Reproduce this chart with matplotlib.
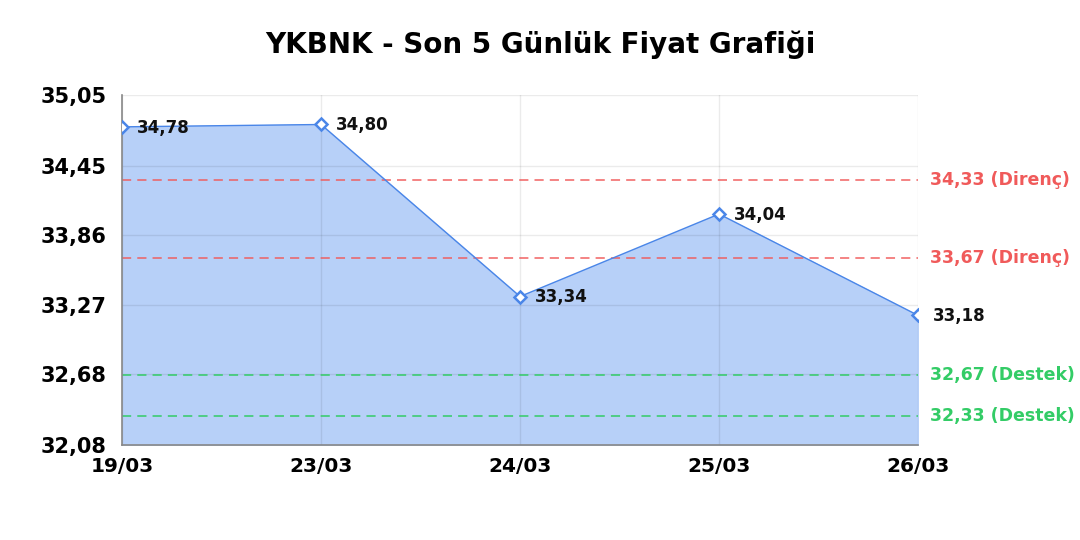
import matplotlib.pyplot as plt
from matplotlib.transforms import blended_transform_factory

dates = ['19/03', '23/03', '24/03', '25/03', '26/03']
prices = [34.78, 34.80, 33.34, 34.04, 33.18]
resistance = [34.33, 33.67]
support = [32.67, 32.33]
y_ticks = [32.08, 32.68, 33.27, 33.86, 34.45, 35.05]

LINE = '#4a86e8'
FILL = '#b7d0f8'
RED = '#f05a5a'
GREEN = '#33cc66'


def fmt(v):
    return f'{v:.2f}'.replace('.', ',')


fig = plt.figure(figsize=(10.8, 5.4), dpi=100)
ax = fig.add_axes([0.113, 0.176, 0.737, 0.648])

x = list(range(len(dates)))
ax.fill_between(x, prices, y_ticks[0], color=FILL, zorder=1)
ax.plot(x, prices, color=LINE, linewidth=1.0, zorder=3)
ax.plot(x, prices, linestyle='none', marker='D', markersize=6,
        markerfacecolor='white', markeredgecolor=LINE, markeredgewidth=1.8, zorder=4)

for xi, p in zip(x, prices):
    ax.annotate(fmt(p), (xi, p), xytext=(11, -0.5), textcoords='offset points',
                ha='left', va='center', fontsize=12, fontweight='bold', color='#111111', zorder=5)

trans = blended_transform_factory(ax.transAxes, ax.transData)
for lvl in resistance:
    ax.axhline(lvl, color=RED, linestyle=(0, (6, 4)), linewidth=1.1, alpha=0.95, zorder=2)
    ax.text(1.015, lvl, f'{fmt(lvl)} (Direnç)', transform=trans, ha='left', va='center',
            fontsize=12.5, fontweight='bold', color=RED)
for lvl in support:
    ax.axhline(lvl, color=GREEN, linestyle=(0, (6, 4)), linewidth=1.1, zorder=2)
    ax.text(1.015, lvl, f'{fmt(lvl)} (Destek)', transform=trans, ha='left', va='center',
            fontsize=12.5, fontweight='bold', color=GREEN)

ax.set_xlim(0, len(dates) - 1)
ax.set_ylim(y_ticks[0], y_ticks[-1])
ax.set_xticks(x)
ax.set_xticklabels(dates, fontsize=14.5, fontweight='bold')
ax.set_yticks(y_ticks)
ax.set_yticklabels([fmt(v) for v in y_ticks], fontsize=15, fontweight='bold')
ax.tick_params(axis='y', length=0, pad=11)
ax.tick_params(axis='x', length=0, pad=9)
ax.grid(True, color='black', alpha=0.08, linewidth=1, zorder=1.5)
for s in ['top', 'right']:
    ax.spines[s].set_visible(False)
for s in ['left', 'bottom']:
    ax.spines[s].set_color('#888888')
    ax.spines[s].set_linewidth(1.2)

fig.text(0.5, 1 - 45 / 540, 'YKBNK - Son 5 Günlük Fiyat Grafiği', ha='center', va='center',
         fontsize=20, fontweight='bold')

fig.savefig('out.png', dpi=100)
